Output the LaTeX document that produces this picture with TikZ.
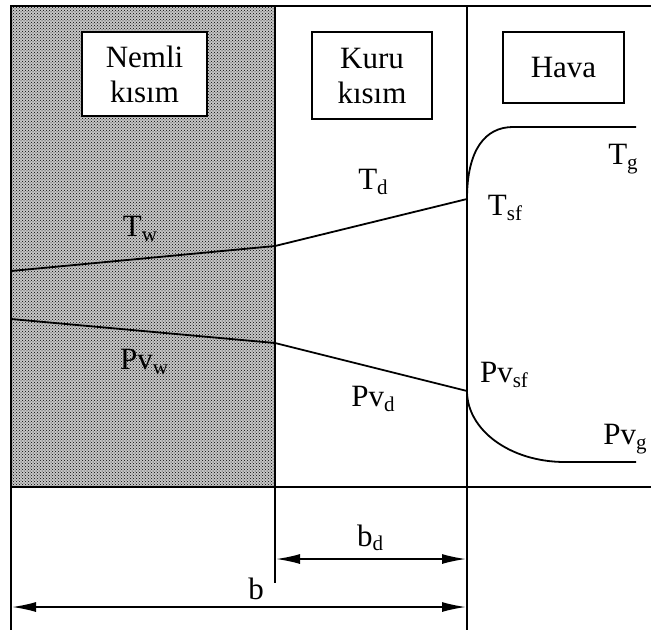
\documentclass[tikz,border=0pt]{standalone}
\usepackage{fontspec}
\setmainfont{Liberation Serif}
\usetikzlibrary{arrows.meta,patterns}

\newcommand{\lowtxt}[1]{\raisebox{-0.3ex}{\fontsize{21}{21}\selectfont #1}}

\begin{document}
\begin{tikzpicture}[x=1pt, y=-1pt,
  frame/.style={line width=2pt},
  profile/.style={line width=1.8pt},
  zone/.style={draw, line width=1.6pt, fill=white, align=center,
    inner sep=0pt, font=\fontsize{31}{35}\selectfont},
  lbl/.style={font=\fontsize{31}{33}\selectfont, inner sep=0pt},
  dim/.style={{Latex[length=24pt,width=10pt]}-{Latex[length=24pt,width=10pt]},
    line width=1.6pt},
]
  \useasboundingbox (0,0) rectangle (651,630);

  % wet region
  \fill[gray!45] (11,6) rectangle (275,487);
  \fill[pattern=crosshatch dots, pattern color=black] (11,6) rectangle (275,487);

  % frame
  \draw[frame] (651,6) -- (11,6) -- (11,630);
  \draw[frame] (11,487) -- (651,487);
  \draw[frame] (275,6) -- (275,583);
  \draw[frame] (467,6) -- (467,630);

  % zone boxes
  \node[zone, minimum width=125pt, minimum height=84pt] (wet) at (144.5,74)
    {Nemli\\kısım};
  \node[zone, minimum width=120pt, minimum height=87pt] (dry) at (372,75.5)
    {Kuru\\kısım};
  \node[zone, minimum width=121pt, minimum height=71pt] (air) at (563.5,67.5)
    {Hava};

  % temperature profile
  \coordinate (tw0) at (11,271);
  \coordinate (tw1) at (275,246);
  \coordinate (ts) at (467,199);
  \coordinate (tg0) at (513,127);
  \coordinate (tg1) at (636,127);
  \draw[profile] (tw0) -- (tw1) -- (ts)
    .. controls (467,150) and (485,127) .. (tg0) -- (tg1);

  % vapour pressure profile
  \coordinate (pw0) at (11,319);
  \coordinate (pw1) at (275,343);
  \coordinate (ps) at (467,391);
  \coordinate (pg0) at (565,462);
  \coordinate (pg1) at (636,462);
  \draw[profile] (pw0) -- (pw1) -- (ps)
    .. controls (467,430) and (510,462) .. (pg0) -- (pg1);

  % labels
  \node[lbl] (tw) at (140,229) {T\lowtxt{w}};
  \node[lbl] (td) at (373,182) {T\lowtxt{d}};
  \node[lbl] (tsf) at (505,208) {T\lowtxt{sf}};
  \node[lbl] (tg) at (623,159) {T\lowtxt{g}};
  \node[lbl] (pvw) at (144,362) {Pv\lowtxt{w}};
  \node[lbl] (pvd) at (373,399) {Pv\lowtxt{d}};
  \node[lbl] (pvsf) at (504,375) {Pv\lowtxt{sf}};
  \node[lbl] (pvg) at (625,439) {Pv\lowtxt{g}};

  % dimensions
  \coordinate (bd0) at (276,559);
  \coordinate (bd1) at (466,559);
  \coordinate (b0) at (12,607);
  \coordinate (b1) at (466,607);
  \draw[dim] (bd0) -- (bd1);
  \draw[dim] (b0) -- (b1);
  \node[lbl] (bd) at (370,538) {b\lowtxt{d}};
  \node[lbl] (b) at (256,589) {b};
\end{tikzpicture}
\end{document}
